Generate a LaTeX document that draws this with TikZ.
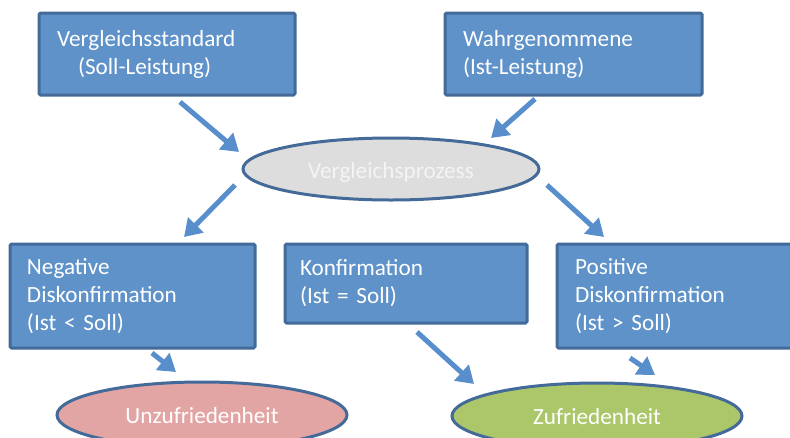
\documentclass[tikz,border=0pt]{standalone}
\usepackage{fontspec}
\setmainfont{Carlito}
\usetikzlibrary{shapes.geometric,arrows.meta}
\definecolor{boxfill}{RGB}{94,146,201}
\definecolor{boxdraw}{RGB}{67,106,152}
\definecolor{arrowc}{RGB}{88,142,204}
\definecolor{greyfill}{RGB}{221,221,221}
\definecolor{pinkfill}{RGB}{226,165,164}
\definecolor{greenfill}{RGB}{172,199,106}
\definecolor{ghost}{RGB}{244,244,244}
\tikzset{
  txt/.style={font=\fontsize{23.2}{28}\selectfont},
  bluebox/.style={txt, rectangle, rounded corners=1.5pt, fill=boxfill, draw=boxdraw, line width=3pt,
    text=white, align=left, inner xsep=18pt, inner ysep=0pt},
  oval/.style={txt, ellipse, draw=boxdraw, line width=3pt, inner sep=0pt, text=white},
  blarrow/.style={draw=arrowc, line width=5pt, -{Triangle[width=21pt,length=17pt]}, arrowc},
}
\begin{document}
\begin{tikzpicture}[x=1pt,y=-1pt]
\useasboundingbox (0,0) rectangle (790,437);
% boxes
\node[bluebox, text width=220pt, minimum height=82pt] (soll) at (167,54)
  {Vergleichsstandard\\\hspace*{21pt}(Soll-Leistung)};
\node[bluebox, text width=221pt, minimum height=82pt] (ist) at (573.5,54)
  {Wahrgenommene\\(Ist-Leistung)};
\node[oval, fill=greyfill, minimum width=296pt, minimum height=62pt, text=ghost,
  text height=22pt, text depth=4pt] (vgl) at (391,169)
  {Vergleichsprozess};
\node[bluebox, text width=211pt, inner xsep=17pt, minimum height=104pt] (neg) at (132.5,296)
  {Negative\\Diskonfirmation\\(Ist < Soll)};
\node[bluebox, text width=212pt, inner xsep=15pt, minimum height=79pt] (konf) at (406,283.5)
  {Konfirmation\\(Ist = Soll)};
\node[bluebox, text width=202pt, minimum height=104pt] (pos) at (676,296)
  {Positive\\Diskonfirmation\\(Ist > Soll)};
\node[oval, fill=pinkfill, minimum width=290pt, minimum height=66pt,
  text height=20pt, text depth=4pt] (unz) at (202,415)
  {Unzufriedenheit};
\node[oval, fill=greenfill, minimum width=290pt, minimum height=66pt,
  text height=20pt, text depth=4pt] (zuf) at (597,416)
  {Zufriedenheit};
% arrow end points
\coordinate (a1s) at (180,102); \coordinate (a1e) at (239,152);
\coordinate (a2s) at (535,99);  \coordinate (a2e) at (491,138);
\coordinate (a3s) at (235,185); \coordinate (a3e) at (184,237);
\coordinate (a4s) at (547,185); \coordinate (a4e) at (604,237);
\coordinate (a5s) at (152,353); \coordinate (a5e) at (176,372);
\coordinate (a6s) at (417,332); \coordinate (a6e) at (474,384);
\coordinate (a7s) at (630,358); \coordinate (a7e) at (655,375);
\draw[blarrow] (a1s) -- (a1e);
\draw[blarrow] (a2s) -- (a2e);
\draw[blarrow] (a3s) -- (a3e);
\draw[blarrow] (a4s) -- (a4e);
\draw[blarrow] (a5s) -- (a5e);
\draw[blarrow] (a6s) -- (a6e);
\draw[blarrow] (a7s) -- (a7e);
\end{tikzpicture}
\end{document}
